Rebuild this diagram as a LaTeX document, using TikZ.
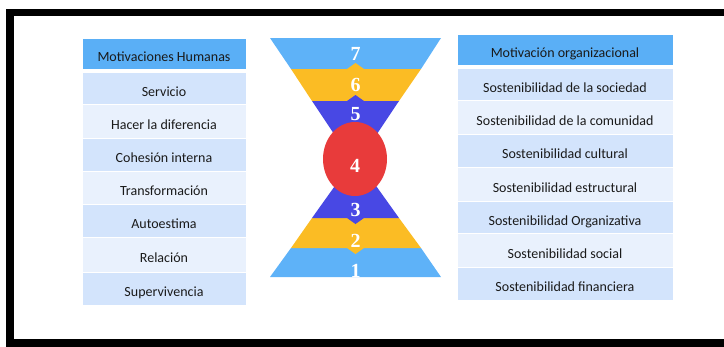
\documentclass[tikz,border=0pt]{standalone}
\usepackage{fontspec}
\setmainfont{Carlito}
\newfontfamily\numfont{Liberation Serif}
\usetikzlibrary{shapes.geometric}
\definecolor{hdr}{HTML}{5AAFF6}
\definecolor{rowA}{HTML}{D3E4FC}
\definecolor{rowB}{HTML}{E9F1FD}
\definecolor{lay7}{HTML}{5EB2F8}
\definecolor{lay6}{HTML}{FBBC24}
\definecolor{lay5}{HTML}{4848E4}
\definecolor{circ}{HTML}{E83B3B}
\definecolor{txt}{HTML}{1A1A1A}
\tikzset{
  cell/.style={rectangle, draw=white, line width=1pt, inner sep=0pt, text=txt,
    font=\fontsize{14}{16}\selectfont, text height=16pt, text depth=0pt},
  lcell/.style={cell, minimum width=164pt},
  rcell/.style={cell, minimum width=216pt},
  num/.style={text=white, font=\numfont\bfseries\fontsize{20}{22}\selectfont, inner sep=0pt},
}
\begin{document}
\begin{tikzpicture}[x=1pt, y=-1pt]
\useasboundingbox (0,0) rectangle (724,346);
\clip (0,0) rectangle (724,346);
% frame
\draw[line width=7.5pt] (10,12.5) rectangle (760,343);
% left table
\node[lcell, fill=hdr,  minimum height=31pt] (lh) at (164,53.5)  {Motivaciones Humanas};
\node[lcell, fill=rowA, minimum height=32pt] (l1) at (164,88)    {Servicio};
\node[lcell, fill=rowB, minimum height=34pt] (l2) at (164,121)   {Hacer la diferencia};
\node[lcell, fill=rowA, minimum height=33pt] (l3) at (164,154.5) {Cohesión interna};
\node[lcell, fill=rowB, minimum height=33pt] (l4) at (164,187.5) {Transformación};
\node[lcell, fill=rowA, minimum height=33pt] (l5) at (164,220.5) {Autoestima};
\node[lcell, fill=rowB, minimum height=35pt] (l6) at (164,254.5) {Relación};
\node[lcell, fill=rowA, minimum height=33pt] (l7) at (164,288.5) {Supervivencia};
% right table
\node[rcell, fill=hdr,  minimum height=31pt] (rh) at (565,49.5)  {Motivación organizacional};
\node[rcell, fill=rowA, minimum height=32pt] (r1) at (565,84)    {Sostenibilidad de la sociedad};
\node[rcell, fill=rowB, minimum height=34pt] (r2) at (565,117)   {Sostenibilidad de la comunidad};
\node[rcell, fill=rowA, minimum height=33pt] (r3) at (565,150.5) {Sostenibilidad cultural};
\node[rcell, fill=rowB, minimum height=34pt] (r4) at (565,184)   {Sostenibilidad estructural};
\node[rcell, fill=rowA, minimum height=32pt] (r5) at (565,217)   {Sostenibilidad Organizativa};
\node[rcell, fill=rowB, minimum height=34pt] (r6) at (565,250)   {Sostenibilidad social};
\node[rcell, fill=rowA, minimum height=33pt] (r7) at (565,283.5) {Sostenibilidad financiera};
% hourglass top
\fill[lay7] (270,38) -- (441,38) -- (421,69) -- (291,69) -- cycle;
\fill[lay6] (291,69) -- (347,69) -- (355.5,63) -- (364,69) -- (421,69) -- (399,101) -- (312,101) -- cycle;
\fill[lay5] (312,101) -- (347,101) -- (355.5,95) -- (364,101) -- (399,101) -- (355.5,166) -- cycle;
% hourglass bottom
\fill[lay7] (270,277) -- (441,277) -- (421,248) -- (291,248) -- cycle;
\fill[lay6] (291,248) -- (347,248) -- (355.5,254) -- (364,248) -- (421,248) -- (399,218) -- (312,218) -- cycle;
\fill[lay5] (312,218) -- (347,218) -- (355.5,224) -- (364,218) -- (399,218) -- (355.5,157) -- cycle;
% centre
\node[ellipse, fill=circ, minimum width=64pt, minimum height=74pt, inner sep=0pt] (c4) at (355,159) {};
% numbers
\node[num] (n7) at (355.5,53.5) {7};
\node[num] (n6) at (355.5,85)   {6};
\node[num] (n5) at (355.5,114)  {5};
\node[num] (n4) at (355,166)    {4};
\node[num] (n3) at (355.5,210)  {3};
\node[num] (n2) at (355.5,240.5){2};
\node[num] (n1) at (355.5,270.5){1};
\end{tikzpicture}
\end{document}
